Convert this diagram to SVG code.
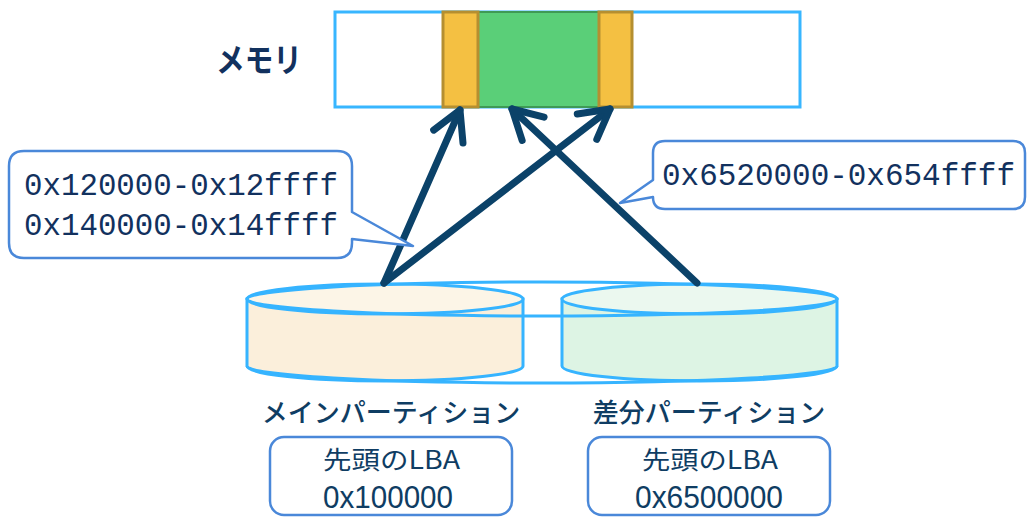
<svg xmlns="http://www.w3.org/2000/svg" width="1027" height="518" viewBox="0 0 1027 518">
<defs>
<style>
.cjk{font-family:"Noto Sans CJK JP","Noto Sans",sans-serif;fill:#12315E}
.lbl{font-family:"Noto Sans CJK JP","Noto Sans",sans-serif;fill:#0F3D63}
.num{font-family:"Liberation Sans","Noto Sans CJK JP",sans-serif;fill:#0F3D63}
.mono{font-family:"Liberation Mono","DejaVu Sans Mono",monospace;fill:#12315E;font-size:31px}
.arrow{stroke:#0B4269;stroke-width:7;fill:none;stroke-linecap:round}
.callout{fill:#fff;stroke:#4A88D9;stroke-width:2.5;stroke-linejoin:round}
.cyl{stroke:#36B4FF;stroke-width:3}
.box{fill:#fff;stroke:#4A88D9;stroke-width:2.5}
</style>
<marker id="head" markerUnits="userSpaceOnUse" markerWidth="50" markerHeight="50" refX="0" refY="0" viewBox="-40 -25 50 50" orient="auto">
<path d="M -29 -16 L 0 0 L -29 16" fill="none" stroke="#0B4269" stroke-width="7" stroke-linecap="round" stroke-linejoin="round"/>
</marker>
</defs>
<rect width="1027" height="518" fill="#fff"/>

<g id="memory">
<text class="cjk" x="216" y="72" font-size="33" font-weight="bold" textLength="86" lengthAdjust="spacingAndGlyphs">メモリ</text>
<rect x="335" y="12" width="465" height="95" fill="#fff" stroke="#38B6FF" stroke-width="3"/>
<rect x="478" y="12" width="121" height="95" fill="#5ACF78" stroke="#3F9A55" stroke-width="2"/>
<rect x="443" y="12" width="35" height="95" fill="#F4C042" stroke="#B58F30" stroke-width="3"/>
<rect x="599" y="12" width="33" height="95" fill="#F4C042" stroke="#B58F30" stroke-width="3"/>
</g>

<g id="disks">
<g id="main-partition">
<path class="cyl" d="M247,299 V366 A138,15 0 0 0 523,366 V299 Z" fill="#FBEFDB"/>
<ellipse class="cyl" cx="385" cy="299" rx="138" ry="15" fill="#FCF5E7"/>
</g>
<g id="diff-partition">
<path class="cyl" d="M562,299 V366 A137.5,15 0 0 0 837,366 V299 Z" fill="#DDF4E4"/>
<ellipse class="cyl" cx="699.5" cy="299" rx="137.5" ry="15" fill="#EBF8EF"/>
</g>
<g id="disk-outline" fill="none">
<ellipse class="cyl" cx="542" cy="299" rx="295" ry="17"/>
<path class="cyl" d="M247,366 A295,17 0 0 0 837,366"/>
</g>
</g>

<g id="connectors">
<line class="arrow" x1="384" y1="283" x2="460" y2="110" marker-end="url(#head)"/>
<line class="arrow" x1="384" y1="283" x2="610" y2="109" marker-end="url(#head)"/>
<line class="arrow" x1="697" y1="283" x2="512" y2="109" marker-end="url(#head)"/>
</g>

<g id="callout-main">
<path class="callout" d="M24,151 H337 Q352,151 352,166 V212 L413,246 L352,239 V243 Q352,258 337,258 H24 Q9,258 9,243 V166 Q9,151 24,151 Z"/>
<text class="mono" x="24" y="195" textLength="314" lengthAdjust="spacingAndGlyphs">0x120000-0x12ffff</text>
<text class="mono" x="24" y="235" textLength="314" lengthAdjust="spacingAndGlyphs">0x140000-0x14ffff</text>
</g>

<g id="callout-diff">
<path class="callout" d="M665,141 H1013 Q1025,141 1025,153 V197 Q1025,209 1013,209 H665 Q653,209 653,197 L620,203 L653,180 V153 Q653,141 665,141 Z"/>
<text class="mono" x="662" y="185" textLength="353" lengthAdjust="spacingAndGlyphs">0x6520000-0x654ffff</text>
</g>

<g id="label-main">
<text class="lbl" x="391" y="422" font-size="26" font-weight="500" text-anchor="middle">メインパーティション</text>
<rect class="box" x="270" y="437" width="242" height="78" rx="14"/>
<text class="lbl" x="323" y="469" font-size="25" textLength="137" lengthAdjust="spacingAndGlyphs">先頭のLBA</text>
<text class="num" x="323" y="508" font-size="31" textLength="130" lengthAdjust="spacingAndGlyphs">0x100000</text>
</g>

<g id="label-diff">
<text class="lbl" x="709" y="422" font-size="26" font-weight="500" text-anchor="middle">差分パーティション</text>
<rect class="box" x="588" y="437" width="242" height="78" rx="14"/>
<text class="lbl" x="642" y="469" font-size="25" textLength="136" lengthAdjust="spacingAndGlyphs">先頭のLBA</text>
<text class="num" x="635" y="508" font-size="31" textLength="148" lengthAdjust="spacingAndGlyphs">0x6500000</text>
</g>
</svg>
